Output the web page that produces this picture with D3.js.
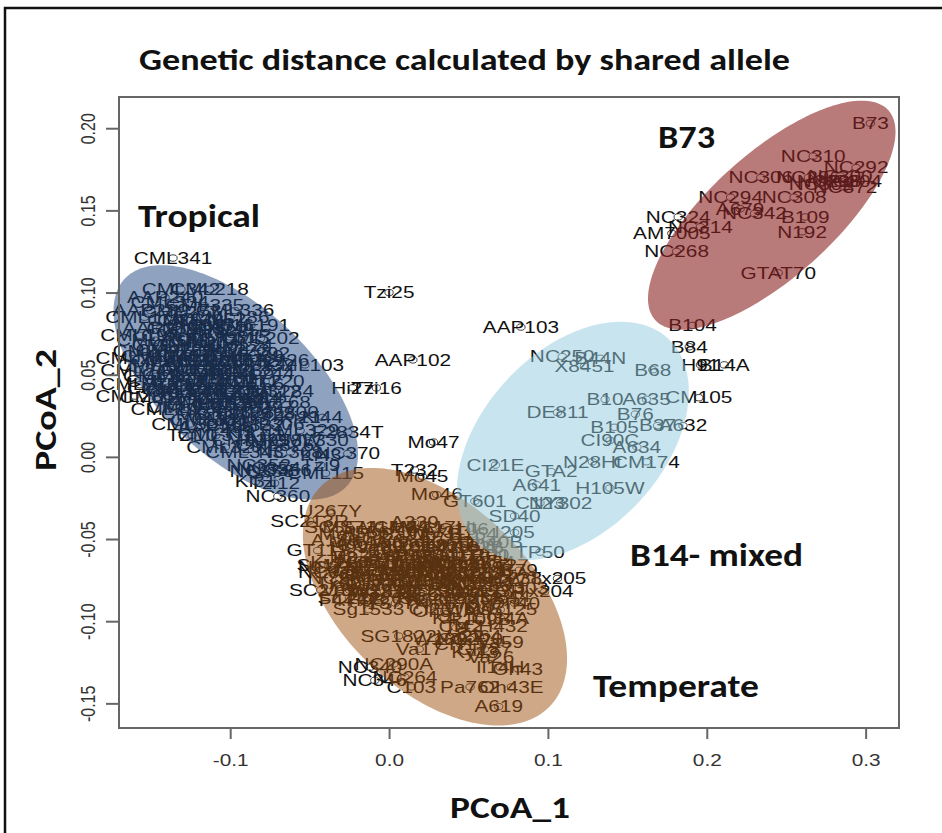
<!DOCTYPE html>
<html><head><meta charset="utf-8">
<script src="https://cdn.jsdelivr.net/npm/d3@7"></script>
<style>body{margin:0;background:#fff}svg{display:block}</style>
</head><body>
<svg id="chart" width="942" height="833"></svg>
<script>
// ---- data ---------------------------------------------------------------
const chartTitle = "Genetic distance calculated by shared allele";
const xTitle = "PCoA_1";
const yTitle = "PCoA_2";
const xTicks = [-0.1, 0.0, 0.1, 0.2, 0.3];
const xTickLabels = ["-0.1", "0.0", "0.1", "0.2", "0.3"];
const yTicks = [-0.15, -0.10, -0.05, 0.00, 0.05, 0.10, 0.15, 0.20];
const yTickLabels = ["-0.15", "-0.10", "-0.05", "0.00", "0.05", "0.10", "0.15", "0.20"];

// group names shown as annotations
const groupNames = ["Tropical", "B73", "B14- mixed", "Temperate"];

// inbred lines: [name, PCoA_1, PCoA_2]
const ungrouped = [
  ["CML341", -0.136, 0.121], ["CML342", -0.131, 0.102], ["CML218", -0.113, 0.102],
  ["Tzi25", 0.000, 0.100], ["AAP103", 0.083, 0.079], ["AAP102", 0.015, 0.059],
  ["Hi27", -0.023, 0.042], ["Tzi16", -0.008, 0.042], ["F2834T", -0.026, 0.015],
  ["Mo47", 0.028, 0.009], ["T232", 0.016, -0.008], ["Mo45", 0.021, -0.012],
  ["Mo46", 0.030, -0.023], ["B84", 0.189, 0.067], ["H91", 0.196, 0.056],
  ["B14A", 0.211, 0.056]
];

const tropical = [
  ["CML103", -0.053, 0.056], ["Mo18W", -0.065, 0.010], ["Tzi10", -0.124, 0.013],
  ["NC360", -0.070, -0.024], ["AAP240", -0.141, 0.097], ["AAP239", -0.150, 0.089],
  ["CML277", -0.131, 0.088], ["CML52", -0.111, 0.084], ["AAP231", -0.144, 0.078],
  ["CML255", -0.099, 0.077], ["CML315", -0.100, 0.073], ["CML69", -0.153, 0.064],
  ["CML292", -0.087, 0.063], ["CML244", -0.084, 0.051], ["CML220", -0.078, 0.046],
  ["CML312", -0.080, 0.040], ["CML268", -0.074, 0.033], ["CML10", -0.150, 0.056],
  ["CML11", -0.147, 0.049], ["CML14", -0.144, 0.042], ["CML154", -0.145, 0.036],
  ["CML38", -0.125, 0.083], ["CML45", -0.119, 0.080], ["CML61", -0.135, 0.074],
  ["CML77", -0.116, 0.071], ["CML91", -0.128, 0.068], ["CML92", -0.109, 0.066],
  ["CML108", -0.122, 0.061], ["CML157", -0.103, 0.059], ["CML158", -0.138, 0.058],
  ["CML228", -0.119, 0.054], ["CML238", -0.097, 0.053], ["CML247", -0.131, 0.050],
  ["CML261", -0.109, 0.048], ["CML264", -0.125, 0.044], ["CML281", -0.100, 0.042],
  ["CML287", -0.119, 0.038], ["CML314", -0.091, 0.036], ["CML321", -0.109, 0.033],
  ["CML322", -0.128, 0.030], ["CML323", -0.097, 0.027], ["CML328", -0.084, 0.026],
  ["CML331", -0.113, 0.022], ["CML332", -0.091, 0.019], ["AAP256", -0.109, 0.018],
  ["Ki3", -0.094, 0.015], ["Ki11", -0.078, 0.013], ["Ki21", -0.056, 0.024],
  ["Ki44", -0.042, 0.024], ["CML343", -0.091, 0.003], ["NC352", -0.082, -0.005],
  ["NC354", -0.076, -0.007], ["NC356", -0.069, -0.008], ["NC358", -0.080, -0.009],
  ["NC368", -0.062, 0.003], ["Ki43", -0.043, 0.001], ["NC370", -0.026, 0.002],
  ["Tzi9", -0.043, -0.005], ["CML115", -0.040, -0.010], ["Ki31", -0.084, -0.015],
  ["Tzi12", -0.072, -0.016], ["CML5", -0.135, 0.083], ["CML16", -0.106, 0.080],
  ["CML21", -0.141, 0.068], ["CML24", -0.094, 0.068], ["CML27", -0.131, 0.062],
  ["CML28", -0.113, 0.058], ["CML32", -0.091, 0.058], ["CML36", -0.125, 0.053],
  ["CML41", -0.103, 0.050], ["CML47", -0.116, 0.046], ["CML50", -0.135, 0.041],
  ["CML53", -0.106, 0.040], ["CML56", -0.087, 0.044], ["CML57", -0.119, 0.032],
  ["CML60", -0.100, 0.035],
  ["CML176", -0.154, 0.085], ["CML186", -0.100, 0.085], ["CML191", -0.087, 0.080],
  ["CML193", -0.128, 0.078], ["CML197", -0.157, 0.074], ["CML202", -0.081, 0.072],
  ["CML204", -0.119, 0.070], ["CML206", -0.160, 0.060], ["CML223", -0.100, 0.065],
  ["CML225", -0.135, 0.065], ["CML226", -0.075, 0.059], ["CML230", -0.125, 0.058],
  ["CML232", -0.084, 0.056], ["CML248", -0.157, 0.053], ["CML249", -0.109, 0.053],
  ["CML257", -0.141, 0.046], ["CML271", -0.094, 0.046], ["CML273", -0.157, 0.044],
  ["CML278", -0.128, 0.040], ["CML284", -0.072, 0.040], ["CML286", -0.160, 0.037],
  ["CML290", -0.100, 0.032], ["CML295", -0.138, 0.029], ["CML297", -0.084, 0.030],
  ["CML298", -0.119, 0.026], ["CML300", -0.069, 0.027], ["CML303", -0.100, 0.023],
  ["CML305", -0.125, 0.020], ["CML306", -0.078, 0.020], ["CML311", -0.109, 0.013],
  ["CML325", -0.087, 0.010], ["CML326", -0.072, 0.007], ["CML327", -0.103, 0.006],
  ["CML329", -0.056, 0.016], ["CML330", -0.050, 0.010], ["CML334", -0.138, 0.094],
  ["CML335", -0.116, 0.092], ["CML336", -0.097, 0.089], ["CML337", -0.147, 0.071],
  ["CML338", -0.113, 0.076], ["CML339", -0.091, 0.061], ["CML340", -0.144, 0.061],
  ["Tzi3", -0.116, 0.041], ["Tzi4", -0.081, 0.035], ["Tzi17", -0.131, 0.035],
  ["Tzi18", -0.094, 0.038]
];

const stiffStalk = [
  ["B73", 0.303, 0.203], ["NC310", 0.267, 0.183], ["NC292", 0.294, 0.176],
  ["NC306", 0.234, 0.170], ["NC372", 0.287, 0.164], ["NC296", 0.264, 0.170],
  ["NC298", 0.277, 0.168], ["NC300", 0.284, 0.171], ["NC302", 0.272, 0.166],
  ["NC304", 0.290, 0.168], ["NC294", 0.215, 0.158], ["NC308", 0.255, 0.158],
  ["A679", 0.221, 0.151], ["NC342", 0.230, 0.148], ["NC324", 0.182, 0.146],
  ["NC314", 0.196, 0.140], ["AM7005", 0.178, 0.136], ["B109", 0.262, 0.146],
  ["N192", 0.260, 0.137], ["NC268", 0.181, 0.125], ["GTAT70", 0.245, 0.112],
  ["B104", 0.191, 0.080]
];

const mixedB14 = [
  ["NC250", 0.109, 0.061], ["B44N", 0.133, 0.060], ["X8451", 0.123, 0.055],
  ["B68", 0.166, 0.053], ["B10", 0.136, 0.035], ["A635", 0.162, 0.035],
  ["CM105", 0.195, 0.036], ["DE811", 0.106, 0.027], ["B76", 0.155, 0.026],
  ["B37", 0.169, 0.019], ["A632", 0.185, 0.019], ["B105", 0.142, 0.018],
  ["CI90C", 0.139, 0.010], ["A634", 0.156, 0.006], ["N28Ht", 0.128, -0.003],
  ["CM174", 0.162, -0.003], ["CI21E", 0.067, -0.005], ["GTA2", 0.102, -0.009],
  ["A641", 0.093, -0.017], ["H105W", 0.139, -0.019], ["GT601", 0.054, -0.027],
  ["C123", 0.095, -0.028], ["NY302", 0.108, -0.028], ["SD40", 0.079, -0.036],
  ["I205", 0.079, -0.046]
];

const temperate = [
  ["U267Y", -0.037, -0.033], ["SC213R", -0.050, -0.039], ["A239", 0.016, -0.040],
  ["GT112", -0.045, -0.057], ["B164", 0.053, -0.047], ["Oh40B", 0.064, -0.052],
  ["TP50", 0.095, -0.058], ["B79", 0.082, -0.069], ["Tx205", 0.106, -0.074],
  ["Tx204", 0.098, -0.082], ["NC328", -0.037, -0.070], ["Tx601", -0.028, -0.077],
  ["F44", -0.033, -0.087], ["Sg1533", -0.013, -0.093], ["SG1822", 0.006, -0.109],
  ["Va17", 0.019, -0.117], ["NC290A", 0.003, -0.126], ["NC264", 0.010, -0.134],
  ["NC340", -0.012, -0.128], ["NC346", -0.009, -0.136], ["C103", 0.014, -0.140],
  ["Pa762", 0.051, -0.140], ["Oh43E", 0.077, -0.140], ["A619", 0.069, -0.152],
  ["Oh43", 0.081, -0.129], ["Va26", 0.064, -0.122], ["Il14H", 0.070, -0.128],
  ["Va59", 0.070, -0.113], ["CI187", 0.060, -0.117],
  ["MS71", -0.025, -0.043], ["M14", -0.006, -0.043], ["H84", 0.013, -0.043], ["W117Ht", 0.032, -0.043],
  ["Mo17", -0.028, -0.047], ["H95", -0.009, -0.047], ["Pa91", 0.010, -0.047], ["Oh7B", 0.029, -0.047],
  ["W64A", -0.018, -0.052], ["Wf9", 0.001, -0.052], ["Va35", 0.019, -0.052], ["Ky21", 0.038, -0.052],
  ["H99", -0.025, -0.055], ["Va85", -0.006, -0.055], ["Il101", 0.013, -0.055], ["Os420", 0.032, -0.055], ["W182B", 0.051, -0.055],
  ["Mo24W", -0.015, -0.060], ["Va99", 0.004, -0.060], ["Pa880", 0.023, -0.060], ["Va102", 0.042, -0.060], ["H100", 0.060, -0.060],
  ["Ky226", -0.031, -0.064], ["NC220", -0.012, -0.064], ["M162W", 0.007, -0.064], ["Ia2132", 0.026, -0.064], ["Mo44", 0.045, -0.064], ["A554", 0.064, -0.064],
  ["NC222", -0.037, -0.067], ["R177", -0.018, -0.067], ["CH701", 0.001, -0.067], ["W401", 0.019, -0.067], ["Ms153", 0.038, -0.067], ["C49A", 0.057, -0.067],
  ["Va14", -0.025, -0.071], ["Ky228", -0.006, -0.071], ["Pa875", 0.013, -0.071], ["Mt42", 0.032, -0.071], ["K148", 0.051, -0.071], ["CI31A", 0.070, -0.071],
  ["SC357", -0.009, -0.075], ["38-11", 0.010, -0.075], ["CH9", 0.029, -0.075], ["K64", 0.048, -0.075], ["Mo1W", 0.067, -0.075],
  ["Ia5125", -0.018, -0.078], ["I29", 0.001, -0.078], ["CM37", 0.019, -0.078], ["N6", 0.038, -0.078], ["NC258", 0.057, -0.078],
  ["W22", -0.012, -0.082], ["B2", 0.007, -0.082], ["NC230", 0.026, -0.082], ["Sg18", 0.045, -0.082], ["W153R", 0.064, -0.082],
  ["SC222", -0.025, -0.086], ["4226", -0.006, -0.086], ["R4", 0.013, -0.086], ["SC212M", 0.032, -0.086], ["NC232", 0.051, -0.086], ["Mo5", 0.070, -0.086],
  ["CI23", 0.026, -0.093], ["W6W", 0.051, -0.093], ["Ms5125", 0.070, -0.093],
  ["K4", 0.035, -0.098], ["CI34A", 0.070, -0.098], ["CI42", 0.045, -0.103], ["CH432", 0.067, -0.103],
  ["Va22", 0.045, -0.109], ["CI64", 0.057, -0.109], ["CH15", 0.045, -0.114],
  ["Oh545", 0.016, -0.066], ["W59M", 0.035, -0.070], ["H49", 0.023, -0.074],
  ["Mo12", 0.042, -0.077], ["Va36", 0.010, -0.069], ["B46", 0.029, -0.064],
  ["A188", -0.034, -0.051], ["A556", -0.015, -0.046], ["CM7", 0.004, -0.043],
  ["CMV3", 0.023, -0.046], ["CO106", 0.042, -0.044], ["CO109", -0.012, -0.054],
  ["CO125", 0.007, -0.057], ["D940Y", 0.026, -0.054], ["E2558W", 0.045, -0.054],
  ["EP1", 0.064, -0.060], ["F2", -0.028, -0.061], ["F7", -0.006, -0.063],
  ["H105", 0.013, -0.061], ["H111", 0.035, -0.060], ["Il677a", 0.054, -0.064],
  ["Ky27", 0.073, -0.066], ["L317", -0.021, -0.069], ["MEF156", -0.003, -0.066],
  ["Mo16W", 0.016, -0.070], ["NC33", 0.038, -0.066], ["NC236", 0.057, -0.070],
  ["NC238", 0.076, -0.074], ["NC260", -0.031, -0.074], ["Oh603", -0.012, -0.072],
  ["R168", 0.004, -0.075], ["R229", 0.023, -0.077], ["SD44", 0.045, -0.074],
  ["T234", 0.064, -0.077], ["Tx303", 0.082, -0.080], ["VaW6", -0.025, -0.081],
  ["W182E", -0.003, -0.082], ["WD", 0.016, -0.081], ["CO255", 0.035, -0.084],
  ["D105", 0.054, -0.082], ["EP44", 0.073, -0.085], ["H98", -0.015, -0.087],
  ["I137TN", 0.004, -0.089], ["K55", 0.023, -0.087], ["L578", 0.042, -0.089],
  ["Oh7", 0.060, -0.091], ["Oh40", 0.079, -0.089], ["Oh51A", 0.035, -0.094],
  ["R109B", 0.057, -0.099], ["T8", 0.042, -0.104], ["W182", 0.032, -0.111],
  ["CO220", 0.051, -0.111], ["Ky13", 0.054, -0.119], ["SC55", -0.037, -0.043],
  ["Sg17", -0.043, -0.066], ["SC213", -0.043, -0.081]
];

// cluster ellipses: centre, end of the major semi-axis, end of the minor semi-axis (data units)
const ellipseNames   = ["Tropical", "Temperate", "B14- mixed", "B73"];
const ellipseCentre  = [[-0.0965, 0.0453], [0.0289, -0.0851], [0.1157, 0.0097], [0.2409, 0.1471]];
const ellipseMajor   = [[-0.0266, -0.0178], [0.1014, -0.1516], [0.1758, 0.0719], [0.3143, 0.2109]];
const ellipseMinor   = [[-0.0643, 0.0786], [0.0696, -0.0436], [0.1571, -0.0276], [0.2670, 0.1191]];
const ellipseFill    = ["#1f4581", "#9f510f", "#91c9dd", "#8a2121"];
const ellipseOpacity = [0.5, 0.5, 0.5, 0.6];

// ---- layout -------------------------------------------------------------
const svg = d3.select("#chart");
const plot = {left: 119, right: 899, top: 97, bottom: 728};
const x = d3.scaleLinear().domain([-0.170, 0.321]).range([plot.left, plot.right]);
const y = d3.scaleLinear().domain([-0.165, 0.219]).range([plot.bottom, plot.top]);
const SX = 1.3;               // horizontal stretch of the plot text
const labelFont = "'Liberation Sans', Arial, Helvetica, sans-serif";
const headFont = "Carlito, Calibri, Lato, 'Open Sans', sans-serif";

// outer frame
svg.append("path").attr("d", "M5,833 V8 H942")
  .attr("fill", "none").attr("stroke", "#111").attr("stroke-width", 2.5);

// title
svg.append("text").attr("x", 139).attr("y", 70)
  .attr("font-family", headFont).attr("font-weight", 700).attr("font-size", 31)
  .attr("textLength", 651).attr("lengthAdjust", "spacingAndGlyphs")
  .attr("fill", "#111").text(chartTitle);

// point labels and open circles
const allLines = [].concat(ungrouped, tropical, stiffStalk, mixedB14, temperate);
const pts = svg.append("g");
pts.selectAll("text").data(allLines).join("text")
  .attr("transform", d => `translate(${x(d[1])},${y(d[2])}) scale(${SX},1)`)
  .attr("text-anchor", "middle").attr("dy", "0.36em")
  .attr("font-family", labelFont).attr("font-size", 16)
  .attr("fill", "#111").text(d => d[0]);
pts.selectAll("ellipse").data(allLines).join("ellipse")
  .attr("cx", d => x(d[1])).attr("cy", d => y(d[2]))
  .attr("rx", 3.2 * SX).attr("ry", 3.2)
  .attr("fill", "none").attr("stroke", "#111").attr("stroke-width", 0.8);

// translucent cluster ellipses drawn over the labels
const theta = d3.range(0, 2 * Math.PI + 0.001, Math.PI / 90);
const ellipsePath = i => {
  const c = ellipseCentre[i], a = ellipseMajor[i], b = ellipseMinor[i];
  const line = d3.line().x(t => x(c[0] + Math.cos(t) * (a[0] - c[0]) + Math.sin(t) * (b[0] - c[0])))
                        .y(t => y(c[1] + Math.cos(t) * (a[1] - c[1]) + Math.sin(t) * (b[1] - c[1])));
  return line(theta) + "Z";
};
svg.append("g").selectAll("path").data(ellipseNames).join("path")
  .attr("d", (d, i) => ellipsePath(i))
  .attr("fill", (d, i) => ellipseFill[i])
  .attr("fill-opacity", (d, i) => ellipseOpacity[i]);

// plot box
svg.append("rect").attr("x", plot.left).attr("y", plot.top)
  .attr("width", plot.right - plot.left).attr("height", plot.bottom - plot.top)
  .attr("fill", "none").attr("stroke", "#666").attr("stroke-width", 2);

// axes
const xAxis = svg.append("g").attr("transform", `translate(0,${plot.bottom})`)
  .call(d3.axisBottom(x).tickValues(xTicks).tickSize(11).tickFormat((d, i) => xTickLabels[i]));
xAxis.select(".domain").remove();
xAxis.selectAll("line").attr("stroke", "#666").attr("stroke-width", 2);
xAxis.selectAll("text").attr("y", null).attr("dy", null)
  .attr("transform", `translate(0,38) scale(${SX},1)`)
  .attr("font-family", labelFont).attr("font-size", 16).attr("fill", "#333");

const yAxis = svg.append("g").attr("transform", `translate(${plot.left},0)`)
  .call(d3.axisLeft(y).tickValues(yTicks).tickSize(13).tickFormat((d, i) => yTickLabels[i]));
yAxis.select(".domain").remove();
yAxis.selectAll("line").attr("stroke", "#666").attr("stroke-width", 2);
yAxis.selectAll("text").attr("x", null).attr("dy", null)
  .attr("text-anchor", "middle")
  .attr("transform", `translate(-24,0) scale(${SX},1) rotate(-90)`)
  .attr("font-family", labelFont).attr("font-size", 16).attr("fill", "#333");

// axis titles
svg.append("text").attr("x", 510).attr("y", 818).attr("text-anchor", "middle")
  .attr("font-family", headFont).attr("font-weight", 700).attr("font-size", 31)
  .attr("textLength", 120).attr("lengthAdjust", "spacingAndGlyphs")
  .attr("fill", "#111").text(xTitle);
svg.append("text").attr("transform", "translate(56,410) rotate(-90)").attr("text-anchor", "middle")
  .attr("font-family", headFont).attr("font-weight", 700).attr("font-size", 31)
  .attr("textLength", 122).attr("lengthAdjust", "spacingAndGlyphs")
  .attr("fill", "#111").text(yTitle);

// cluster annotations
const annot = [[138, 227, 122], [658, 148, 57], [630, 566, 173], [593, 697, 166]];
svg.append("g").selectAll("text").data(groupNames).join("text")
  .attr("x", (d, i) => annot[i][0]).attr("y", (d, i) => annot[i][1])
  .attr("textLength", (d, i) => annot[i][2]).attr("lengthAdjust", "spacingAndGlyphs")
  .attr("font-family", headFont).attr("font-weight", 700).attr("font-size", 32)
  .attr("fill", "#111").text(d => d);
</script>
</body></html>
